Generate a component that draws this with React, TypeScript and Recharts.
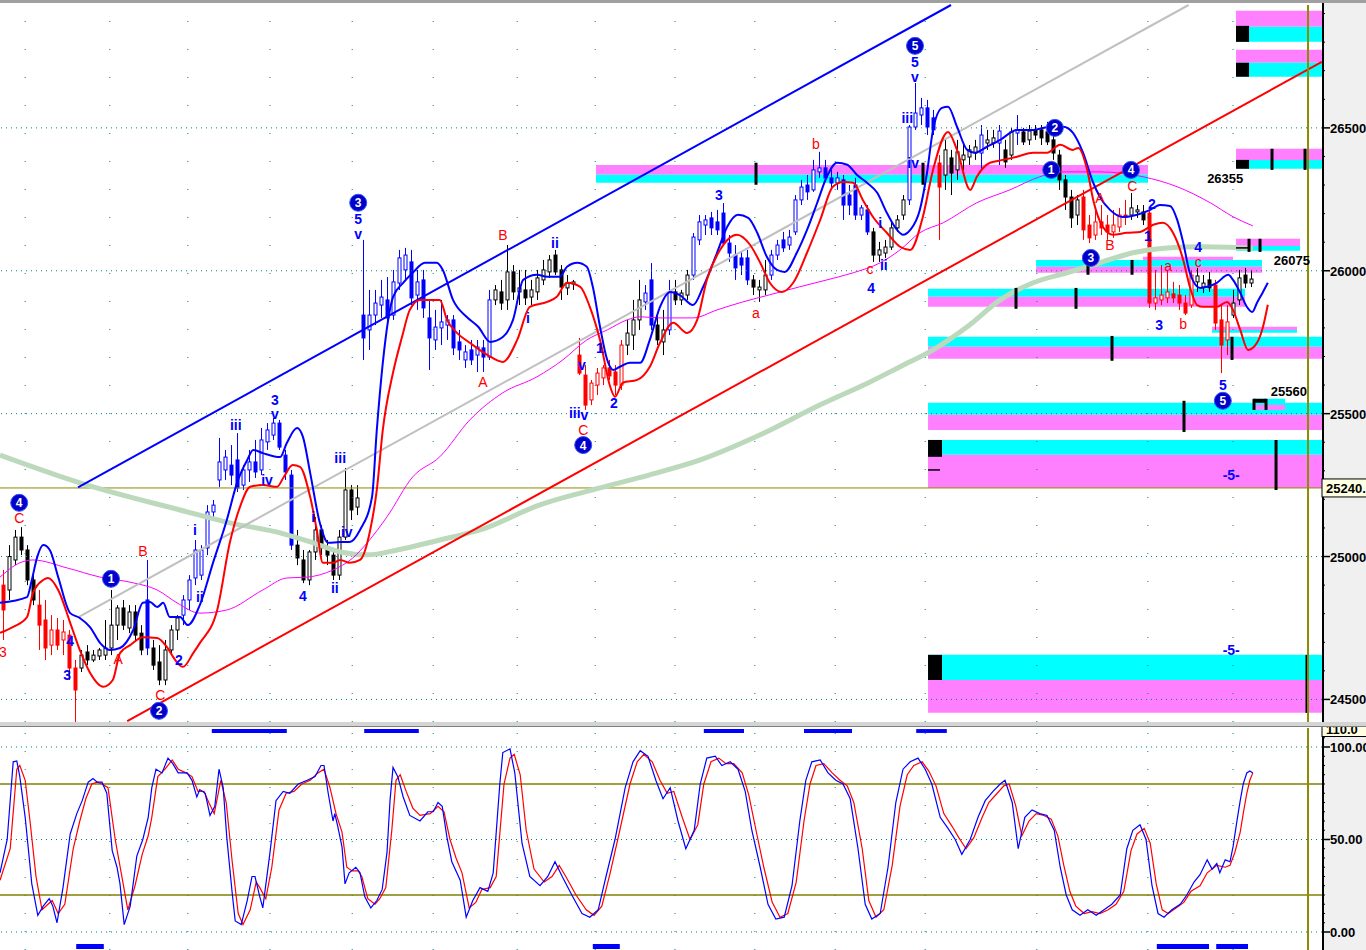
import React from 'react';
import { ComposedChart, Bar, Line, XAxis, YAxis, ReferenceLine, ReferenceArea, ReferenceDot } from 'recharts';

const FONT = '"Liberation Sans", Arial, sans-serif';

// one candle per bar index (0..208): [open, high, low, close]
const ohlc = [
  [24900, 24953, 24708, 24813], [24883, 25040, 24848, 25000], [24988, 25093, 24970, 25068], [25068, 25103, 25005, 25023],
  [25023, 25040, 24900, 24918], [24918, 24935, 24830, 24848], [24830, 24883, 24673, 24760], [24778, 24848, 24638, 24680],
  [24690, 24795, 24655, 24743], [24743, 24785, 24673, 24690], [24708, 24778, 24655, 24736], [24725, 24743, 24568, 24610],
  [24610, 24638, 24421, 24533], [24610, 24673, 24596, 24655], [24666, 24690, 24620, 24638], [24638, 24673, 24631, 24655],
  [24652, 24680, 24638, 24673], [24655, 24778, 24638, 24680], [24680, 24883, 24655, 24760], [24760, 24830, 24708, 24820],
  [24820, 24848, 24743, 24760], [24750, 24830, 24732, 24806], [24806, 24830, 24708, 24725], [24732, 24760, 24655, 24673],
  [24848, 24988, 24655, 24680], [24680, 24708, 24603, 24620], [24631, 24690, 24550, 24568], [24568, 24708, 24550, 24673],
  [24673, 24760, 24655, 24743], [24743, 24795, 24708, 24785], [24795, 24865, 24760, 24848], [24848, 24935, 24813, 24918],
  [24925, 25058, 24900, 25023], [24935, 25040, 24918, 25023], [25030, 25180, 25005, 25156], [25156, 25198, 25128, 25180],
  [25268, 25415, 25243, 25331], [25303, 25373, 25268, 25348], [25320, 25390, 25250, 25285], [25338, 25432, 25226, 25240],
  [25250, 25320, 25233, 25303], [25303, 25373, 25261, 25331], [25331, 25408, 25275, 25296], [25303, 25450, 25285, 25408],
  [25401, 25467, 25373, 25443], [25425, 25485, 25408, 25467], [25467, 25478, 25373, 25383], [25355, 25373, 25268, 25296],
  [25285, 25303, 25023, 25040], [25040, 25093, 24970, 24995], [24988, 25023, 24907, 24918], [24918, 25023, 24900, 25016],
  [25016, 25138, 24988, 25093], [25093, 25110, 25005, 25030], [25030, 25058, 24970, 25005], [25005, 25023, 24918, 24935],
  [24935, 25093, 24918, 25068], [25068, 25310, 25058, 25233], [25233, 25250, 25128, 25163], [25173, 25250, 25145, 25205],
  [25845, 26108, 25688, 25765], [25793, 25933, 25723, 25845], [25845, 25933, 25810, 25887], [25880, 25968, 25835, 25908],
  [25898, 25978, 25821, 25835], [25845, 26003, 25828, 25961], [25957, 26073, 25933, 26045], [26003, 26080, 25968, 26055],
  [26031, 26073, 25880, 25905], [25915, 26003, 25863, 25961], [25968, 26003, 25835, 25870], [25835, 25898, 25653, 25765],
  [25758, 25863, 25723, 25803], [25800, 25898, 25740, 25821], [25810, 25845, 25758, 25828], [25828, 25845, 25705, 25730],
  [25751, 25793, 25688, 25723], [25688, 25740, 25660, 25716], [25723, 25758, 25670, 25688], [25705, 25758, 25646, 25733],
  [25730, 25758, 25646, 25698], [25698, 25933, 25688, 25898], [25898, 25950, 25880, 25933], [25926, 25968, 25863, 25887],
  [25898, 26090, 25863, 25996], [25996, 26020, 25898, 25926], [25926, 26003, 25880, 25940], [25933, 26003, 25880, 25905],
  [25908, 25968, 25880, 25933], [25926, 26003, 25898, 25975], [25968, 26038, 25950, 26003], [25996, 26055, 25975, 26038],
  [26055, 26073, 25985, 25996], [26003, 26020, 25898, 25943], [25940, 25985, 25915, 25957], [25954, 25968, 25933, 25961],
  [25705, 25765, 25635, 25642], [25635, 25670, 25513, 25530], [25548, 25618, 25530, 25607], [25600, 25660, 25565, 25642],
  [25625, 25670, 25600, 25660], [25660, 25688, 25618, 25632], [25646, 25670, 25565, 25600], [25600, 25758, 25583, 25740],
  [25740, 25828, 25705, 25782], [25775, 25898, 25723, 25828], [25828, 25968, 25793, 25898], [25891, 25950, 25863, 25922],
  [25968, 26027, 25793, 25810], [25810, 25845, 25740, 25758], [25751, 25863, 25705, 25793], [25793, 25968, 25775, 25926],
  [25926, 25968, 25880, 25898], [25898, 25933, 25880, 25922], [25915, 26003, 25898, 25985], [25985, 26132, 25968, 26118],
  [26108, 26195, 26090, 26171], [26160, 26195, 26125, 26178], [26185, 26206, 26125, 26150], [26171, 26213, 26125, 26143],
  [26202, 26237, 26090, 26097], [26097, 26125, 26031, 26062], [26055, 26090, 25968, 26010], [26045, 26066, 25985, 26020],
  [26045, 26073, 25950, 25968], [25968, 25985, 25915, 25943], [25933, 25968, 25891, 25943], [25933, 26038, 25915, 25985],
  [25985, 26073, 25968, 26055], [26055, 26108, 26038, 26090], [26108, 26136, 26066, 26080], [26090, 26143, 26073, 26118],
  [26136, 26265, 26125, 26248], [26248, 26318, 26230, 26293], [26300, 26335, 26248, 26276], [26283, 26388, 26276, 26353],
  [26346, 26416, 26325, 26360], [26360, 26388, 26311, 26325], [26325, 26353, 26283, 26307], [26307, 26346, 26283, 26325],
  [26318, 26335, 26178, 26230], [26265, 26300, 26195, 26230], [26300, 26325, 26178, 26195], [26195, 26230, 26178, 26220],
  [26213, 26230, 26125, 26136], [26136, 26150, 26031, 26055], [26055, 26101, 26031, 26073], [26062, 26108, 26045, 26083],
  [26083, 26171, 26073, 26150], [26150, 26195, 26136, 26178], [26195, 26265, 26178, 26248], [26248, 26510, 26230, 26503],
  [26503, 26657, 26493, 26552], [26545, 26605, 26510, 26570], [26570, 26598, 26475, 26503], [26535, 26563, 26475, 26493],
  [26377, 26405, 26108, 26293], [26335, 26458, 26283, 26423], [26395, 26423, 26265, 26342], [26353, 26458, 26318, 26416],
  [26388, 26440, 26353, 26405], [26398, 26440, 26370, 26423], [26412, 26458, 26388, 26433], [26412, 26510, 26353, 26475],
  [26447, 26493, 26423, 26458], [26447, 26493, 26430, 26465], [26447, 26510, 26370, 26489], [26423, 26458, 26360, 26381],
  [26405, 26500, 26388, 26486], [26482, 26545, 26440, 26493], [26486, 26500, 26440, 26451], [26458, 26510, 26440, 26489],
  [26493, 26510, 26458, 26475], [26493, 26510, 26440, 26465], [26486, 26521, 26440, 26451], [26458, 26493, 26388, 26412],
  [26405, 26423, 26283, 26318], [26318, 26335, 26213, 26258], [26258, 26283, 26150, 26185], [26195, 26265, 26160, 26248],
  [26258, 26283, 26108, 26143], [26160, 26195, 26097, 26115], [26125, 26213, 26108, 26171], [26171, 26230, 26125, 26150],
  [26160, 26195, 26108, 26136], [26136, 26213, 26115, 26160], [26153, 26220, 26136, 26195], [26195, 26248, 26160, 26188],
  [26195, 26272, 26178, 26220], [26206, 26230, 26185, 26213], [26206, 26230, 26160, 26178], [26202, 26213, 25870, 25887],
  [25887, 26003, 25863, 25905], [25898, 26020, 25880, 25915], [25905, 26003, 25887, 25926], [25919, 25961, 25887, 25905],
  [25915, 25950, 25863, 25887], [25887, 25915, 25845, 25852], [25880, 26003, 25870, 25985], [25961, 26010, 25926, 25982],
  [25943, 25985, 25922, 25957], [25968, 25996, 25926, 25940], [25950, 25968, 25793, 25817], [25828, 25880, 25642, 25740],
  [25758, 25880, 25705, 25821], [25845, 25933, 25835, 25887], [25898, 26003, 25880, 25975], [25985, 26010, 25940, 25957],
  [25957, 26003, 25943, 25971],
];

// bars painted by the trend colouring
const redRuns = [[0, 0], [6, 12], [96, 103], [156, 156], [180, 187], [191, 198], [202, 204]];
const blueRuns = [[24, 24], [30, 48], [60, 81], [107, 108], [111, 111], [115, 124], [128, 144], [151, 155], [163, 163], [166, 166], [169, 169]];

// envelope lines [bar, price]
const upperBand = [
  [-0.5, 24838], [4, 24858], [4.8, 24918], [5.7, 24998], [6.7, 25040], [7.8, 25023], [9.2, 24928], [11.2, 24802],
  [12.8, 24785], [14.5, 24753], [16.2, 24697], [17.8, 24673], [19.5, 24680], [21.7, 24743], [23.3, 24838], [24.5, 24841],
  [25.7, 24823], [26.7, 24838], [27.8, 24788], [29.5, 24788], [30.8, 24760], [32.8, 24830], [35, 24978], [37.3, 25128],
  [39, 25258], [40.7, 25338], [41.7, 25373], [43.3, 25362], [46.2, 25348], [47.3, 25397], [49, 25450], [50, 25418],
  [51.2, 25292], [52.8, 25118], [54.2, 25048], [56.2, 25051], [57.8, 25051], [59.5, 25093], [61.5, 25208], [62.3, 25443],
  [63.3, 25678], [65, 25908], [66.7, 25958], [68.3, 25993], [70.3, 26028], [72.3, 26028], [73.3, 26003], [75, 25898],
  [77.3, 25838], [79.2, 25804], [81.2, 25751], [83.3, 25768], [85, 25828], [86.7, 25968], [89, 25986], [90.7, 25979],
  [92.8, 25979], [94, 26014], [95.7, 26028], [97.3, 26014], [98.3, 25944], [99.5, 25804], [100.7, 25688], [101.7, 25653],
  [102.8, 25664], [104.5, 25678], [106.2, 25678], [107.8, 25758], [109.5, 25874], [111.2, 25926], [112.8, 25915], [115, 25880],
  [116.7, 25944], [119, 26063], [120.7, 26154], [122.5, 26196], [124.2, 26185], [125.7, 26133], [127.3, 26049], [129, 26003],
  [130.3, 25996], [132.3, 26063], [134, 26143], [135.7, 26238], [137.3, 26329], [139, 26378], [140.7, 26371], [142.3, 26336],
  [144, 26308], [145.7, 26273], [147.3, 26203], [149, 26143], [150, 26126], [151.2, 26143], [152.8, 26213], [154, 26343],
  [155, 26493], [156.5, 26570], [157.5, 26574], [159, 26504], [160.7, 26423], [162, 26413], [164, 26434], [166.2, 26458],
  [169, 26493], [171.7, 26493], [174.5, 26504], [176.7, 26504], [178.3, 26483], [180, 26413], [181.7, 26308], [182.8, 26259],
  [184.5, 26213], [186.7, 26188], [189, 26196], [191.2, 26213], [192.8, 26230], [194.5, 26227], [195.7, 26178], [196.7, 26098],
  [197.8, 25993], [199.5, 25940], [200.7, 25944], [202.3, 25958], [204.2, 25986], [205, 25968], [206.2, 25923], [207.3, 25874],
  [208.2, 25856], [209, 25888], [210, 25926], [210.8, 25958],
];

const lowerBand = [
  [-0.5, 24733], [1.7, 24754], [4, 24788], [5, 24873], [6.7, 24918], [7.5, 24925], [9.2, 24883], [11.2, 24768],
  [12.8, 24673], [14.5, 24593], [16.7, 24544], [18.3, 24568], [19.5, 24662], [21.2, 24690], [23.3, 24718], [25.7, 24715],
  [27.3, 24684], [28.7, 24638], [30, 24614], [31.7, 24662], [32.8, 24697], [35.7, 24813], [37.8, 25048], [39.5, 25174],
  [41.2, 25244], [43.3, 25250], [45.7, 25244], [46.7, 25275], [48.3, 25320], [49.5, 25314], [51.2, 25208], [52.3, 25093],
  [53.3, 24978], [55, 24978], [56.2, 24988], [57.8, 24978], [59.5, 24988], [61.2, 25093], [62.3, 25233], [63.3, 25443],
  [65, 25643], [66.5, 25768], [67.8, 25863], [69.5, 25898], [72.8, 25898], [74, 25828], [75.7, 25782], [77.8, 25748],
  [80.7, 25706], [83.3, 25681], [85.7, 25758], [87.8, 25874], [90.7, 25891], [92.3, 25909], [94, 25958], [96.2, 25944],
  [97.8, 25874], [99.5, 25758], [101.2, 25594], [102, 25559], [103.3, 25608], [105.7, 25618], [107.8, 25664], [109.5, 25748],
  [111.7, 25818], [114, 25782], [115.7, 25828], [117.3, 25968], [119.5, 26073], [122.3, 26126], [124.5, 26091], [126.2, 26028],
  [127.8, 25958], [129.8, 25926], [131.7, 25958], [134, 26063], [136.2, 26178], [138.3, 26294], [140, 26311], [141.7, 26308],
  [143.3, 26248], [145, 26188], [147.3, 26133], [149.5, 26084], [151.2, 26073], [153.3, 26188], [155, 26353], [157.5, 26486],
  [159, 26423], [161.2, 26283], [162.3, 26329], [164.5, 26378], [166.7, 26388], [169, 26399], [171.7, 26413], [174, 26413],
  [176.2, 26441], [178.3, 26423], [179.2, 26430], [180.7, 26353], [181.7, 26248], [183.3, 26154], [185, 26126], [187.3, 26133],
  [189.5, 26136], [191.7, 26161], [193.3, 26168], [195, 26133], [196.7, 26038], [197.8, 25944], [199, 25880], [200, 25874],
  [202.3, 25874], [204, 25891], [205, 25863], [206.2, 25793], [207.5, 25723], [209, 25748], [210, 25804], [210.8, 25881],
];

const fastMa = [
  [-0.5, 24928], [2.8, 24978], [5, 24988], [10.7, 24960], [16.2, 24928], [21.7, 24908], [25.7, 24883], [29, 24838],
  [32.8, 24802], [37.3, 24813], [43.3, 24883], [47.3, 24925], [50.7, 24928], [55, 24953], [58.3, 24995], [60.7, 25048],
  [64, 25139], [68.3, 25279], [72.8, 25349], [77.8, 25478], [83.3, 25573], [89, 25629], [93.3, 25688], [97.3, 25758],
  [100.7, 25793], [104, 25828], [106.2, 25839], [109.5, 25835], [115, 25835], [119, 25863], [123.3, 25891], [127.8, 25916],
  [132.8, 25944], [137.3, 25968], [141.7, 25993], [146.2, 26028], [149.5, 26073], [152.8, 26133], [156.7, 26168], [162.3, 26238],
  [167.8, 26283], [172.8, 26329], [176.2, 26346], [182.8, 26346], [190, 26329], [195.7, 26294], [201.2, 26238], [205, 26189],
  [208.3, 26157],
];

const slowMa = [
  [-0.5, 25355], [12.8, 25258], [29.5, 25163], [37.8, 25118], [46.2, 25083], [51.7, 25048], [56.2, 25016], [60.7, 25006],
  [65.7, 25023], [72.8, 25058], [79.5, 25093], [89.5, 25181], [99.5, 25240], [107.8, 25286], [116.2, 25338], [126.2, 25426],
  [136.2, 25531], [144.5, 25611], [149.5, 25664], [155, 25723], [160.7, 25804], [166.2, 25898], [171.7, 25958], [177.3, 25993],
  [182.8, 26028], [188.3, 26063], [194, 26080], [199.5, 26084], [208.3, 26080],
];

// stochastic %K / %D  [bar, value]
const stochK = [
  [-0.5, 32], [0.7, 50], [1.7, 92], [2.3, 92.5], [2.8, 84], [3.7, 62], [4.8, 26], [5.8, 9], [6.7, 14], [7.7, 18], [8.3, 14], [9, 5],
  [10, 24], [11.2, 53], [12.3, 64], [13.2, 71], [14.2, 81], [15, 83], [15.7, 81], [16.5, 81], [17.3, 75], [18.2, 44], [19, 35],
  [19.5, 26], [20.2, 4], [21.2, 14], [22.3, 41], [23.3, 50], [24.2, 62], [24.8, 78], [25.5, 88], [26.5, 86], [27.5, 94], [28.3, 91],
  [29.2, 86], [30.7, 86], [31.5, 82], [32.3, 73], [32.8, 77], [33.7, 75], [34.5, 63], [35.3, 68], [36, 88], [36.7, 78], [37.3, 51],
  [38.2, 21], [38.7, 6], [39.7, 4], [40.7, 17], [41.5, 30], [42, 30], [42.8, 19], [43.3, 13], [44.5, 43], [45.5, 71], [46.7, 76],
  [47.8, 75], [49.2, 80], [50.7, 82], [52, 84], [53, 90], [53.5, 90], [54.2, 75], [55, 60], [55.3, 64], [55.8, 57], [56.5, 46],
  [57, 26], [57.7, 32], [58.8, 35], [59.5, 32], [60.3, 19], [61.3, 13], [62.3, 17], [63.2, 23], [64, 43], [64.5, 71], [65, 89],
  [65.8, 84], [66.7, 73], [67.8, 63], [69.5, 60], [70.8, 65], [71.7, 65], [72.5, 70], [73.2, 68], [74, 51], [74.8, 38], [76.2, 28],
  [77.2, 8], [78.3, 17], [79.5, 24], [80.8, 22], [81.7, 32], [82.8, 80], [83.3, 97], [84.5, 99], [85.3, 86], [86.5, 48], [87.8, 30],
  [89.5, 25], [90.8, 30], [92, 38], [93.2, 30], [94.8, 20], [96.5, 10], [97.8, 8], [99.2, 12], [100.5, 30], [102, 50], [103.7, 78],
  [105, 92], [106.2, 98], [107.5, 95], [108.8, 82], [110, 72], [111.2, 78], [112.5, 60], [113.8, 45], [115.2, 55], [116.2, 80],
  [117.3, 94], [118.7, 95], [119.8, 90], [121.2, 92], [122.5, 88], [123.7, 76], [124.8, 55], [126.2, 35], [127.5, 15], [128.8, 7],
  [130.2, 8], [131.5, 25], [132.8, 60], [133.8, 82], [134.8, 92], [136.2, 93], [137.5, 86], [138.8, 82], [140, 80], [141.2, 72],
  [142.5, 45], [143.7, 15], [144.8, 7], [146.2, 10], [147.5, 35], [148.8, 70], [150, 88], [151.2, 92], [152.5, 94], [153.7, 88],
  [154.8, 80], [156.2, 62], [157.5, 56], [158.7, 50], [159.8, 42], [161.2, 50], [162.5, 62], [163.7, 71], [165, 76], [166.2, 80],
  [167, 82], [168.2, 70], [169.2, 45], [170.3, 62], [171.5, 66], [172.8, 64], [174, 63], [175.2, 55], [176.2, 35], [177.2, 20],
  [178.2, 12], [179.5, 9], [180.8, 12], [182.2, 9], [183.5, 12], [184.8, 15], [186.2, 20], [187.3, 45], [188.3, 55], [189.5, 58],
  [190.5, 50], [191.5, 25], [192.5, 10], [193.5, 8], [194.8, 12], [196.2, 15], [197.3, 20], [198.5, 27], [199.5, 31], [200.7, 39],
  [201.5, 34], [202.3, 37], [202.8, 32], [203.7, 39], [204.5, 38], [205, 46], [205.7, 61], [206.2, 71], [206.7, 80], [207.3, 86],
  [207.8, 87], [208.3, 86],
];

const stochD = [
  [-0.5, 28], [1.2, 45], [2.3, 88], [2.8, 90], [3.7, 82], [4.5, 60], [5.5, 30], [6.5, 12], [7.5, 15], [8.2, 17], [9.2, 10],
  [10.3, 15], [11.7, 45], [12.8, 60], [13.8, 72], [14.8, 80], [15.7, 81], [16.5, 80], [17.5, 78], [18.7, 50], [19.7, 32],
  [20.8, 12], [22, 25], [23.2, 42], [24.2, 52], [24.8, 62], [25.8, 84], [27, 88], [28.2, 93], [29.2, 88], [30.5, 86], [31.5, 84],
  [32.5, 76], [33.5, 76], [34.3, 70], [35.2, 64], [36.3, 82], [37.2, 70], [38.2, 38], [39.2, 10], [40, 4], [41.2, 12], [42.2, 27],
  [42.8, 24], [43.8, 18], [44.8, 35], [46, 66], [47.2, 75], [48.5, 76], [49.8, 80], [51.2, 82], [52.5, 86], [53.5, 88], [54.5, 78],
  [55.5, 64], [56.5, 54], [57.3, 35], [58.2, 33], [59.2, 33], [59.8, 30], [60.8, 18], [62, 15], [62.8, 18], [63.8, 24], [64.8, 55],
  [65.5, 82], [66.2, 85], [67.2, 76], [68.3, 67], [69.5, 63], [71.2, 64], [72.5, 68], [73.5, 65], [74.5, 50], [75.5, 40], [76.5, 32],
  [77.7, 13], [78.8, 16], [79.8, 23], [81.2, 24], [82.2, 30], [83.5, 80], [84.5, 94], [85.2, 96], [86.2, 85], [87.2, 55], [88.5, 34],
  [90.2, 27], [91.5, 30], [92.7, 36], [93.8, 30], [95.5, 20], [97.2, 12], [98.5, 9], [99.8, 14], [101.2, 32], [102.8, 55], [104.5, 80],
  [105.7, 92], [106.8, 96], [108.2, 92], [109.5, 82], [110.7, 75], [111.8, 76], [113.2, 62], [114.5, 50], [115.8, 58], [116.8, 80],
  [118, 92], [119.3, 94], [120.5, 91], [121.8, 91], [123.2, 86], [124.3, 74], [125.5, 55], [126.8, 35], [128.2, 16], [129.5, 8],
  [130.8, 10], [132.2, 27], [133.5, 60], [134.5, 80], [135.5, 90], [136.8, 91], [138.2, 86], [139.5, 82], [140.7, 79], [141.8, 70],
  [143.2, 45], [144.3, 17], [145.5, 8], [146.8, 12], [148.2, 36], [149.5, 68], [150.7, 85], [151.8, 90], [153.2, 92], [154.3, 87],
  [155.5, 79], [156.8, 64], [158.2, 57], [159.3, 51], [160.5, 45], [161.8, 51], [163.2, 62], [164.3, 70], [165.7, 75], [166.8, 79],
  [167.7, 80], [168.8, 68], [169.8, 52], [171, 60], [172.2, 64], [173.5, 63], [174.7, 61], [175.8, 52], [176.8, 36], [177.8, 22],
  [178.8, 14], [180.2, 10], [181.5, 11], [182.8, 10], [184.2, 12], [185.5, 15], [186.8, 22], [188, 44], [189, 53], [190.2, 56],
  [191.2, 48], [192.2, 26], [193.2, 12], [194.2, 10], [195.5, 13], [196.8, 16], [198, 22], [199.5, 25], [200.7, 32], [202.3, 36],
  [203.7, 35], [204.5, 36], [205.3, 43], [206.2, 54], [206.7, 64], [207.3, 75], [207.8, 82], [208.3, 86],
];

// trend channel [bar, price] endpoints
const channelUpper = [[12.5, 25242], [158, 26930]];
const channelMid = [[12.5, 24787], [197.6, 26930]];
const channelLower = [[20.7, 24424], [219.8, 26731]];

// support / resistance zones: [fromBar, toBar, top, split, bottom, order]  pc = pink over cyan
const zones = [
  [98.83, 190.83, 26370, 26336, 26308, 'pc'],
  [190, 205, 26049, 26038, 26038, 'pc'],
  [172.17, 209.83, 26038, 26014, 25993, 'cp'],
  [154.17, 207, 25937, 25909, 25874, 'cp'],
  [201.5, 215.67, 25804, 25793, 25783, 'pc'],
  [154.17, 219.83, 25769, 25734, 25692, 'cp'],
  [154.17, 219.83, 25538, 25496, 25443, 'cp'],
  [208.33, 213.67, 25552, 25531, 25513, 'cp'],
  [154.17, 219.83, 25408, 25356, 25240, 'cp'],
  [205.5, 219.83, 26910, 26854, 26801, 'pc'],
  [205.5, 219.83, 26773, 26728, 26679, 'pc'],
  [205.5, 219.83, 26427, 26388, 26357, 'pc'],
  [205.5, 216.17, 26112, 26087, 26070, 'pc'],
  [154.17, 219.83, 24656, 24568, 24453, 'cp'],
];
const blocks = [
  [205.5, 207.67, 26857, 26801], [205.5, 207.67, 26728, 26679], [205.5, 207.67, 26388, 26357],
  [154.17, 156.5, 25408, 25349], [154.17, 156.5, 24656, 24568], [208.5, 210.5, 25552, 25538],
];
const stubs = [
  [125.5, 26378, 26301], [153.33, 26378, 26301], [180.83, 26031, 25986], [188.17, 26038, 25986],
  [168.83, 25940, 25867], [178.83, 25940, 25867], [184.83, 25772, 25685], [204.83, 25769, 25688],
  [196.83, 25545, 25436], [212.17, 25408, 25233], [217.33, 24656, 24453], [211.5, 26427, 26353],
  [217, 26427, 26353], [207.67, 26112, 26066], [209.5, 26112, 26066], [208.5, 25552, 25513], [210.5, 25552, 25513],
];
const dashes = [[154.17, 156.17, 25303], [205.5, 207.83, 26080]];

// wave counts: [bar, price, text, tone, circled]
const waveMarks = [
  [2.7, 25188, '4', 'b', 1], [18, 24922, '1', 'b', 1], [26, 24460, '2', 'b', 1], [59.2, 26238, '3', 'b', 1],
  [96.7, 25390, '4', 'b', 1], [152, 26787, '5', 'b', 1], [174.7, 26353, '1', 'b', 1], [175.3, 26500, '2', 'b', 1],
  [181.3, 26045, '3', 'b', 1], [188, 26353, '4', 'b', 1], [203.3, 25545, '5', 'b', 1],
  [2.7, 25135, 'C', 'r', 0], [0, 24666, '3', 'r', 0], [10.7, 24585, '3', 'b', 0], [11.2, 24704, '4', 'b', 0],
  [19.2, 24642, 'A', 'r', 0], [23.3, 25020, 'B', 'r', 0], [26.2, 24515, 'C', 'r', 0], [29.3, 24638, '2', 'b', 0],
  [32, 25093, 'i', 'b', 0], [32.8, 24858, 'ii', 'b', 0], [38.8, 25460, 'iii', 'b', 0], [45.3, 25548, '3', 'b', 0],
  [45.3, 25499, 'v', 'b', 0], [44, 25268, 'iv', 'b', 0], [50, 24862, '4', 'b', 0], [51.7, 25138, 'i', 'b', 0],
  [55.3, 24890, 'ii', 'b', 0], [56.2, 25345, 'iii', 'b', 0], [57.3, 25086, 'iv', 'b', 0], [59.2, 26182, '5', 'b', 0],
  [59.2, 26129, 'v', 'b', 0], [80, 25611, 'A', 'r', 0], [83.3, 26126, 'B', 'r', 0], [87.5, 25835, 'i', 'b', 0],
  [92, 26098, 'ii', 'b', 0], [95.3, 25502, 'iii', 'b', 0], [96.9, 25495, 'v', 'b', 0], [96.5, 25670, 'v', 'b', 0],
  [96.7, 25443, 'C', 'r', 0], [99.5, 25730, '1', 'b', 0], [101.8, 25538, '2', 'b', 0], [119.3, 26266, '3', 'b', 0],
  [125.5, 25852, 'a', 'r', 0], [135.5, 26444, 'b', 'r', 0], [144.5, 26006, 'c', 'r', 0], [144.7, 25938, '4', 'b', 0],
  [146.2, 26168, 'i', 'b', 0], [146.8, 26020, 'ii', 'b', 0], [150.7, 26535, 'iii', 'b', 0], [151.7, 26377, 'iv', 'b', 0],
  [152, 26731, '5', 'b', 0], [152, 26678, 'v', 'b', 0], [182.8, 26255, 'A', 'r', 0], [184.5, 26090, 'B', 'r', 0],
  [188.2, 26297, 'C', 'r', 0], [191.5, 26234, '2', 'b', 0], [190.8, 26122, '1', 'b', 0], [192.7, 25810, '3', 'b', 0],
  [194.2, 26017, 'a', 'r', 0], [196.7, 25814, 'b', 'r', 0], [199.2, 26084, '4', 'b', 0], [199.2, 26031, 'c', 'r', 0],
  [203.3, 25600, '5', 'b', 0], [204.7, 25285, '-5-', 'b', 0], [204.7, 24673, '-5-', 'b', 0],
  [203.7, 26325, '26355', 'k', 0], [214.8, 26038, '26075', 'k', 0], [214.3, 25580, '25560', 'k', 0],
];

const sessionBars = [3.7, 17.8, 30.8, 44.5, 58.2, 71.7, 85.7, 98.7, 112, 125.3, 138.7, 153.7, 172.3, 190.8, 205];
const obRuns = [[34.8, 47.3], [60.2, 69.3], [116.8, 123.5], [133.5, 141.5], [152.2, 157.3]];
const osRuns = [[12.2, 16.8], [98.3, 102.8], [192.3, 201], [202.2, 207.5]];

const majorPriceTicks = [24500, 25000, 25500, 26000, 26500];
const lastPrice = 25240;
const cursorBar = 217.5;
const barDomain = [-0.5, 219.83];
const priceDomain = [24421, 26930];
const stochDomain = [-9.73, 110.27];

const minorPriceTicks: number[] = [];
for (let p = 24500; p <= 26900; p += 100) minorPriceTicks.push(p);
const priceAxisTicks = [...minorPriceTicks, lastPrice];
const stochAxisTicks: number[] = [];
for (let v = 0; v <= 105; v += 5) stochAxisTicks.push(v);
stochAxisTicks.push(110);

const inRun = (runs: number[][], i: number) => runs.some(([a, b]) => i >= a && i <= b);
const candles = ohlc.map(([open, high, low, close], i) => ({
  bar: i, open, high, low, close, range: [low, high],
  tone: inRun(redRuns, i) ? 'r' : inRun(blueRuns, i) ? 'b' : 'k',
}));
const pts = (arr: number[][]) => arr.map(([bar, v]) => ({ bar, v }));

const toneColor = (t: string) => (t === 'r' ? '#ff0000' : t === 'b' ? '#0000ff' : '#000000');

const Candle = (props: any) => {
  const { x, y, width, height, payload } = props;
  if (!payload || x == null || y == null) return null;
  const top = Math.min(y, y + height);
  const h = Math.abs(height);
  const { open, close, high, low, tone } = payload;
  const span = high - low || 1;
  const toY = (v: number) => top + ((high - v) / span) * h;
  const cx = Math.round(x + width / 2) + 0.5;
  const c = toneColor(tone);
  const y1 = toY(Math.max(open, close));
  const y2 = toY(Math.min(open, close));
  return (
    <g>
      <line x1={cx} x2={cx} y1={top} y2={top + h} stroke={c} strokeWidth={1} />
      <rect x={cx - 1.5} y={y1} width={3} height={Math.max(1, y2 - y1)} fill={close >= open ? '#ffffff' : c} stroke={c} strokeWidth={1} />
    </g>
  );
};

const WaveMark = ({ cx, cy, text, tone, circled }: any) => {
  if (cx == null) return null;
  if (circled) {
    return (
      <g>
        <circle cx={cx} cy={cy} r={8.5} fill="#0000c8" stroke="#3050ff" strokeWidth={1} />
        <text x={cx} y={cy + 4.5} textAnchor="middle" fontSize={12} fontWeight="bold" fill="#ffffff" fontFamily={FONT}>{text}</text>
      </g>
    );
  }
  const price = tone === 'k';
  return (
    <text x={cx} y={cy + 5} textAnchor="middle" fontSize={price ? 13 : 14} fontWeight={tone === 'r' ? 'normal' : 'bold'}
      fill={toneColor(tone)} fontFamily={FONT}>{text}</text>
  );
};

const PriceTick = (props: any) => {
  const { x, y, payload } = props;
  const v = payload.value;
  if (v === lastPrice) {
    return (
      <g>
        <rect x={x} y={y - 9} width={50} height={18} fill="#ffffe1" stroke="#000000" strokeWidth={1} />
        <text x={x + 4} y={y + 5} fontSize={13} fontWeight="bold" fill="#000" fontFamily={FONT}>{`${v}.`}</text>
      </g>
    );
  }
  const major = majorPriceTicks.includes(v);
  return (
    <g>
      <line x1={x + 1} x2={x + (major ? 8 : 3)} y1={y} y2={y} stroke="#000" strokeWidth={major ? 1.5 : 1} />
      {major && <text x={x + 8} y={y + 5} fontSize={13} fontWeight="bold" fill="#000" fontFamily={FONT}>{v}</text>}
    </g>
  );
};

const StochTick = (props: any) => {
  const { x, y, payload } = props;
  const v = payload.value;
  if (v === 110) {
    return (
      <g>
        <rect x={x} y={y - 8} width={50} height={16} fill="#ffffe1" stroke="#000000" strokeWidth={1} />
        <text x={x + 4} y={y + 5} fontSize={13} fontWeight="bold" fill="#000" fontFamily={FONT}>110.0</text>
      </g>
    );
  }
  const major = v % 50 === 0;
  return (
    <g>
      <line x1={x + 1} x2={x + (major ? 8 : 3)} y1={y} y2={y} stroke="#000" strokeWidth={major ? 1.5 : 1} />
      {major && <text x={x + 8} y={y + 5} fontSize={13} fontWeight="bold" fill="#000" fontFamily={FONT}>{v.toFixed(2)}</text>}
    </g>
  );
};

const App = () => {
  return (
    <div style={{ position: 'absolute', left: 0, top: 0, width: 1366, height: 950, background: '#ffffff', overflow: 'hidden', fontFamily: FONT }}>
      <div style={{ position: 'absolute', left: 1322, top: 0, width: 44, height: 950, background: '#f0f0f0', borderLeft: '2px solid #000' }} />
      <div style={{ position: 'absolute', left: 0, top: 0 }}>
        <ComposedChart width={1366} height={722} data={candles} margin={{ top: 5, right: 0, bottom: 0, left: 0 }}>
          <XAxis type="number" dataKey="bar" domain={barDomain} hide allowDataOverflow />
          <YAxis orientation="right" width={44} domain={priceDomain} allowDataOverflow ticks={priceAxisTicks} interval={0}
            tick={<PriceTick />} tickSize={0} tickMargin={0} axisLine={false} tickLine={false} />
          {zones.map(([a, b, top, mid, bot, order]: any, i) => (
            <React.Fragment key={`z${i}`}>
              <ReferenceArea x1={a} x2={b} y1={mid} y2={top} fill={order === 'pc' ? '#ff80ff' : '#00ffff'} fillOpacity={1} stroke="none" ifOverflow="visible" />
              {mid !== bot && (
                <ReferenceArea x1={a} x2={b} y1={bot} y2={mid} fill={order === 'pc' ? '#00ffff' : '#ff80ff'} fillOpacity={1} stroke="none" ifOverflow="visible" />
              )}
            </React.Fragment>
          ))}
          {blocks.map(([a, b, top, bot], i) => (
            <ReferenceArea key={`k${i}`} x1={a} x2={b} y1={bot} y2={top} fill="#000000" fillOpacity={1} stroke="none" ifOverflow="visible" />
          ))}
          {majorPriceTicks.map((p) => (
            <ReferenceLine key={`h${p}`} y={p} stroke="#008080" strokeDasharray="1 4" ifOverflow="visible" />
          ))}
          {sessionBars.map((b) => (
            <ReferenceLine key={`s${b}`} x={b} stroke="#008080" strokeDasharray="1 27" ifOverflow="visible" />
          ))}
          <ReferenceLine y={lastPrice} stroke="#8c8c00" strokeWidth={1} ifOverflow="visible" />
          <Line data={pts(slowMa)} dataKey="v" type="monotone" stroke="#bcd9bc" strokeWidth={5} dot={false} isAnimationActive={false} />
          <Line data={pts(fastMa)} dataKey="v" type="monotone" stroke="#ff00ff" strokeWidth={1} dot={false} isAnimationActive={false} />
          <ReferenceLine segment={channelMid.map(([x, y]) => ({ x, y }))} stroke="#c0c0c0" strokeWidth={2} ifOverflow="visible" />
          <ReferenceLine segment={channelUpper.map(([x, y]) => ({ x, y }))} stroke="#0000ff" strokeWidth={2} ifOverflow="visible" />
          <ReferenceLine segment={channelLower.map(([x, y]) => ({ x, y }))} stroke="#ff0000" strokeWidth={2} ifOverflow="visible" />
          <Line data={pts(upperBand)} dataKey="v" type="monotone" stroke="#0000ff" strokeWidth={2} dot={false} isAnimationActive={false} />
          <Line data={pts(lowerBand)} dataKey="v" type="monotone" stroke="#ff0000" strokeWidth={2} dot={false} isAnimationActive={false} />
          <Bar dataKey="range" shape={Candle} isAnimationActive={false} />
          {stubs.map(([b, top, bot], i) => (
            <ReferenceLine key={`t${i}`} segment={[{ x: b, y: top }, { x: b, y: bot }]} stroke="#000000" strokeWidth={3} ifOverflow="visible" />
          ))}
          {dashes.map(([a, b, p], i) => (
            <ReferenceLine key={`d${i}`} segment={[{ x: a, y: p }, { x: b, y: p }]} stroke="#000000" strokeWidth={1.5} ifOverflow="visible" />
          ))}
          <ReferenceLine x={cursorBar} stroke="#8c8c00" strokeWidth={2} ifOverflow="visible" />
          {waveMarks.map(([bar, price, text, tone, circled]: any, i) => (
            <ReferenceDot key={`w${i}`} x={bar} y={price} r={9} ifOverflow="visible"
              shape={(p: any) => <WaveMark cx={p.cx} cy={p.cy} text={text} tone={tone} circled={circled} />} />
          ))}
        </ComposedChart>
      </div>
      <div style={{ position: 'absolute', left: 0, top: 0, width: 1366, height: 3, background: '#a0a0a0' }} />
      <div style={{ position: 'absolute', left: 0, top: 722, width: 1366, height: 4, background: '#d4d4d4', borderBottom: '1px solid #808080' }} />
      <div style={{ position: 'absolute', left: 0, top: 727 }}>
        <ComposedChart width={1366} height={223} margin={{ top: 1, right: 0, bottom: 0, left: 0 }}>
          <XAxis type="number" dataKey="bar" domain={barDomain} hide allowDataOverflow />
          <YAxis orientation="right" width={44} domain={stochDomain} allowDataOverflow ticks={stochAxisTicks} interval={0}
            tick={<StochTick />} tickSize={0} tickMargin={0} axisLine={false} tickLine={false} />
          {[0, 50, 100].map((v) => (
            <ReferenceLine key={`g${v}`} y={v} stroke="#008080" strokeDasharray="1 4" ifOverflow="visible" />
          ))}
          {sessionBars.map((b) => (
            <ReferenceLine key={`s${b}`} x={b} stroke="#008080" strokeDasharray="1 17" ifOverflow="visible" />
          ))}
          <ReferenceLine y={80} stroke="#808000" strokeWidth={1.5} ifOverflow="visible" />
          <ReferenceLine y={20} stroke="#808000" strokeWidth={1.5} ifOverflow="visible" />
          <ReferenceLine x={cursorBar} stroke="#8c8c00" strokeWidth={2} ifOverflow="visible" />
          {obRuns.map(([a, b], i) => (
            <ReferenceArea key={`o${i}`} x1={a} x2={b} y1={107.6} y2={109.7} fill="#0000ff" fillOpacity={1} stroke="none" ifOverflow="visible" />
          ))}
          {osRuns.map(([a, b], i) => (
            <ReferenceArea key={`u${i}`} x1={a} x2={b} y1={-9.2} y2={-6.5} fill="#0000ff" fillOpacity={1} stroke="none" ifOverflow="visible" />
          ))}
          <Line data={pts(stochD)} dataKey="v" type="linear" stroke="#ff0000" strokeWidth={1.2} dot={false} isAnimationActive={false} />
          <Line data={pts(stochK)} dataKey="v" type="linear" stroke="#0000ff" strokeWidth={1.2} dot={false} isAnimationActive={false} />
        </ComposedChart>
      </div>
    </div>
  );
};

export default App;
